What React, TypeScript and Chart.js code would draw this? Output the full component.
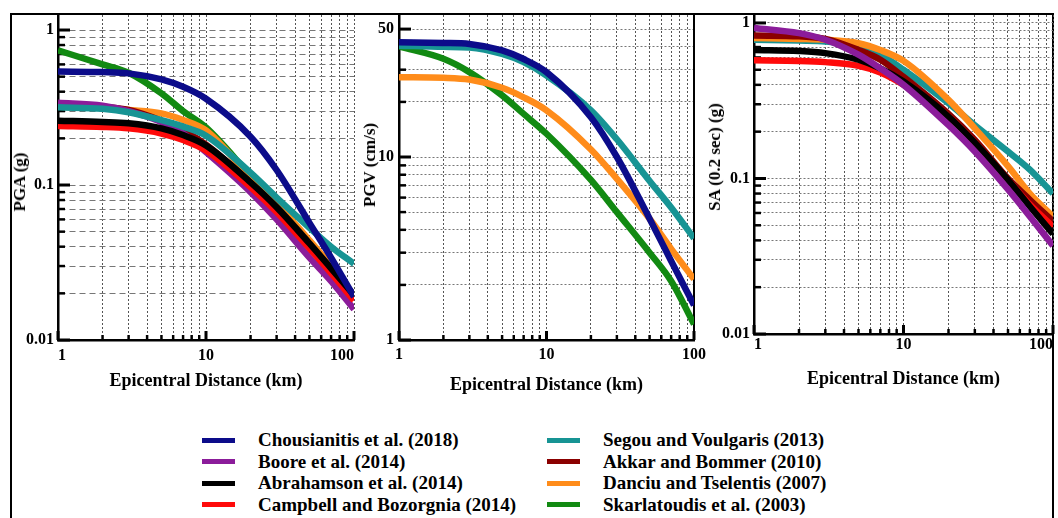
import React, { useEffect, useRef } from "react";
import { Chart, registerables } from "chart.js";

Chart.register(...registerables);

// ---------------- DATA ----------------
const DISTANCE_KM = [1, 2, 3, 5, 7, 10, 20, 30, 50, 70, 100];

const MODEL_NAMES = [
  "Chousianitis et al. (2018)",
  "Boore et al. (2014)",
  "Abrahamson et al. (2014)",
  "Campbell and Bozorgnia (2014)",
  "Segou and Voulgaris (2013)",
  "Akkar and Bommer (2010)",
  "Danciu and Tselentis (2007)",
  "Skarlatoudis et al. (2003)",
];
const MODEL_COLORS = ["#0c0c8a", "#8b1c9a", "#000000", "#ff0a0a", "#179494", "#8b0000", "#ff8c1a", "#128a12"];

// PGA (g)
const PGA_CHOUSIANITIS = [0.54, 0.535, 0.525, 0.48, 0.43, 0.36, 0.205, 0.125, 0.057, 0.034, 0.019];
const PGA_BOORE = [0.34, 0.325, 0.3, 0.255, 0.215, 0.163, 0.09, 0.06, 0.034, 0.024, 0.0158];
const PGA_ABRAHAMSON = [0.26, 0.255, 0.25, 0.232, 0.21, 0.18, 0.104, 0.072, 0.042, 0.029, 0.0195];
const PGA_CAMPBELL = [0.24, 0.237, 0.232, 0.215, 0.195, 0.167, 0.097, 0.067, 0.039, 0.027, 0.018];
const PGA_SEGOU = [0.317, 0.31, 0.295, 0.262, 0.238, 0.208, 0.12, 0.083, 0.053, 0.04, 0.031];
const PGA_AKKAR = [0.33, 0.32, 0.305, 0.26, 0.225, 0.182, 0.103, 0.07, 0.04, 0.028, 0.0185];
const PGA_DANCIU = [0.32, 0.315, 0.305, 0.29, 0.263, 0.225, 0.112, 0.076, 0.044, 0.03, 0.019];
const PGA_SKARLATOUDIS = [0.74, 0.6, 0.53, 0.39, 0.3, 0.235, 0.115, 0.076, 0.043, 0.03, 0.019];

// PGV (cm/s)
const PGV_CHOUSIANITIS = [42.4, 42, 41.5, 38.2, 34.3, 29.1, 16.5, 10, 4.6, 2.7, 1.55];
const PGV_SEGOU = [40.6, 40, 39.7, 36.6, 33, 27.9, 18, 12.5, 7.4, 5.3, 3.6];
const PGV_DANCIU = [27.3, 27.1, 26.5, 23.9, 21.2, 18, 11, 7.6, 4.6, 3.15, 2.15];
const PGV_SKARLATOUDIS = [40.2, 34.4, 29.1, 21.7, 17.2, 13.4, 7.5, 5.0, 3.0, 2.1, 1.22];

// SA (0.2 sec) (g)
const SA_BOORE = [0.93, 0.86, 0.78, 0.625, 0.51, 0.4, 0.22, 0.149, 0.085, 0.057, 0.037];
const SA_ABRAHAMSON = [0.67, 0.66, 0.64, 0.58, 0.51, 0.42, 0.25, 0.17, 0.098, 0.066, 0.044];
const SA_CAMPBELL = [0.575, 0.57, 0.56, 0.53, 0.48, 0.4, 0.25, 0.17, 0.098, 0.068, 0.049];
const SA_AKKAR = [0.83, 0.82, 0.79, 0.67, 0.58, 0.45, 0.26, 0.177, 0.1, 0.073, 0.053];
const SA_DANCIU = [0.8, 0.79, 0.78, 0.74, 0.67, 0.57, 0.32, 0.21, 0.12, 0.08, 0.057];
const SA_SEGOU = [0.78, 0.77, 0.76, 0.71, 0.625, 0.5, 0.305, 0.22, 0.149, 0.114, 0.08];

// Axis ticks / grid
const X_GRID = [1, 2, 3, 4, 5, 6, 7, 8, 9, 10, 20, 30, 40, 50, 60, 70, 80, 90, 100];
const X_TICK_LABELS = [1, 10, 100];
const G_GRID = [0.01, 0.02, 0.03, 0.04, 0.05, 0.06, 0.07, 0.08, 0.09, 0.1, 0.2, 0.3, 0.4, 0.5, 0.6, 0.7, 0.8, 0.9, 1];
const G_TICK_LABELS = [0.01, 0.1, 1];
const PGV_GRID = [1, 2, 3, 4, 5, 6, 7, 8, 9, 10, 20, 30, 40, 50];
const PGV_TICK_LABELS = [1, 10, 50];

const X_TITLE = "Epicentral Distance (km)";

// ---------------- STYLE / LAYOUT ----------------
const FONT = "'Liberation Serif', 'Times New Roman', serif";

type Series = { model: number; values: number[] };
type PanelSpec = {
  left: number;
  width: number;
  height: number;
  padTop: number;
  padRight: number;
  yAxisWidth: number;
  xAxisHeight: number;
  yMin: number;
  yMax: number;
  yGrid: number[];
  yLabels: number[];
  yTitle: string;
  yTitleX: number;
  yTitleY: number;
  yTickPad: number;
  xTickPad: number;
  xTitlePad: number;
  xAlign: "center" | "inner";
  yDash: number[];
  rightBorder: boolean;
  series: Series[];
};

const PANELS: PanelSpec[] = [
  {
    left: 0, width: 362, height: 400, padTop: 15, padRight: 8, yAxisWidth: 58, xAxisHeight: 60,
    yMin: 0.01, yMax: 1.25, yGrid: G_GRID, yLabels: G_TICK_LABELS,
    yTitle: "PGA (g)", yTitleX: 20, yTitleY: 182,
    yTickPad: 4, xTickPad: 6, xTitlePad: 8, xAlign: "inner", yDash: [6, 4], rightBorder: false,
    series: [
      { model: 0, values: PGA_CHOUSIANITIS },
      { model: 4, values: PGA_SEGOU },
      { model: 2, values: PGA_ABRAHAMSON },
      { model: 3, values: PGA_CAMPBELL },
      { model: 1, values: PGA_BOORE },
      { model: 5, values: PGA_AKKAR },
      { model: 6, values: PGA_DANCIU },
      { model: 7, values: PGA_SKARLATOUDIS },
    ],
  },
  {
    left: 355, width: 360, height: 400, padTop: 15, padRight: 21, yAxisWidth: 44, xAxisHeight: 60,
    yMin: 1, yMax: 59.7, yGrid: PGV_GRID, yLabels: PGV_TICK_LABELS,
    yTitle: "PGV (cm/s)", yTitleX: 370, yTitleY: 165,
    yTickPad: 5, xTickPad: 5, xTitlePad: 4, xAlign: "center", yDash: [2, 2], rightBorder: true,
    series: [
      { model: 0, values: PGV_CHOUSIANITIS },
      { model: 4, values: PGV_SEGOU },
      { model: 6, values: PGV_DANCIU },
      { model: 7, values: PGV_SKARLATOUDIS },
    ],
  },
  {
    left: 700, width: 358, height: 400, padTop: 15, padRight: 5, yAxisWidth: 54, xAxisHeight: 66,
    yMin: 0.01, yMax: 1.125, yGrid: G_GRID, yLabels: G_TICK_LABELS,
    yTitle: "SA (0.2 sec) (g)", yTitleX: 715, yTitleY: 157,
    yTickPad: 4, xTickPad: 1, xTitlePad: 10, xAlign: "inner", yDash: [2, 2], rightBorder: false,
    series: [
      { model: 1, values: SA_BOORE },
      { model: 2, values: SA_ABRAHAMSON },
      { model: 3, values: SA_CAMPBELL },
      { model: 5, values: SA_AKKAR },
      { model: 6, values: SA_DANCIU },
      { model: 4, values: SA_SEGOU },
    ],
  },
];

const innerTicks = {
  id: "innerTicks",
  beforeDatasetsDraw(chart: any, _args: any, opts: any) {
    const { ctx, chartArea: a, scales } = chart;
    const xs = scales.x;
    const ys = scales.y;
    ctx.save();
    ctx.strokeStyle = "#000";
    ctx.lineCap = "butt";
    ctx.setLineDash([]);
    for (const t of ys.ticks) {
      const p = ys.getPixelForValue(t.value);
      if (p < a.top - 0.5 || p > a.bottom + 0.5) continue;
      const major = opts.yLabels.includes(t.value);
      ctx.lineWidth = major ? 3 : 2.5;
      ctx.beginPath();
      ctx.moveTo(a.left, p);
      ctx.lineTo(a.left + (major ? 12 : 7), p);
      ctx.stroke();
    }
    for (const t of xs.ticks) {
      const p = xs.getPixelForValue(t.value);
      if (p < a.left - 0.5 || p > a.right + 0.5) continue;
      const major = X_TICK_LABELS.includes(t.value);
      ctx.lineWidth = major ? 3 : 2.5;
      ctx.beginPath();
      ctx.moveTo(p, a.bottom);
      ctx.lineTo(p, a.bottom - (major ? 9 : 5));
      ctx.stroke();
    }
    if (opts.rightBorder) {
      ctx.lineWidth = 2;
      ctx.beginPath();
      ctx.moveTo(a.right, a.top);
      ctx.lineTo(a.right, a.bottom);
      ctx.stroke();
    }
    ctx.restore();
  },
};

function buildConfig(p: PanelSpec): any {
  const datasets = p.series.map((s) => ({
    label: MODEL_NAMES[s.model],
    data: DISTANCE_KM.map((x, i) => ({ x, y: s.values[i] })),
    borderColor: MODEL_COLORS[s.model],
    backgroundColor: MODEL_COLORS[s.model],
    borderWidth: 6.5,
    pointRadius: 0,
    fill: false,
    cubicInterpolationMode: "monotone",
    clip: 0,
  }));
  const tickFont = { family: FONT, size: 16, weight: "bold" };
  return {
    type: "line",
    data: { datasets },
    plugins: [innerTicks],
    options: {
      responsive: false,
      animation: false,
      devicePixelRatio: 1,
      layout: { padding: { top: p.padTop, right: p.padRight, left: 0, bottom: 0 } },
      plugins: {
        legend: { display: false },
        tooltip: { enabled: false },
        innerTicks: { yLabels: p.yLabels, rightBorder: p.rightBorder },
      },
      scales: {
        x: {
          type: "logarithmic",
          position: "bottom",
          min: 1,
          max: 100,
          afterFit: (s: any) => {
            s.height = p.xAxisHeight;
          },
          afterBuildTicks: (s: any) => {
            s.ticks = X_GRID.map((v) => ({ value: v }));
          },
          ticks: {
            autoSkip: false,
            maxRotation: 0,
            minRotation: 0,
            padding: p.xTickPad,
            align: p.xAlign,
            color: "#000",
            font: tickFont,
            callback: (v: number) => (X_TICK_LABELS.includes(v) ? String(v) : ""),
          },
          grid: { color: "#555", lineWidth: 1, drawTicks: false },
          border: { display: true, color: "#000", width: 2.5, dash: [2, 2] },
          title: {
            display: true,
            text: X_TITLE,
            color: "#000",
            font: { family: FONT, size: 18, weight: "bold" },
            padding: { top: 0, bottom: p.xTitlePad },
          },
        },
        y: {
          type: "logarithmic",
          position: "left",
          min: p.yMin,
          max: p.yMax,
          afterFit: (s: any) => {
            s.width = p.yAxisWidth;
          },
          afterBuildTicks: (s: any) => {
            s.ticks = p.yGrid.map((v) => ({ value: v }));
          },
          ticks: {
            autoSkip: false,
            padding: p.yTickPad,
            color: "#000",
            font: tickFont,
            callback: (v: number) => (p.yLabels.includes(v) ? String(v) : ""),
          },
          grid: { color: "#777", lineWidth: 1, drawTicks: false },
          border: { display: true, color: "#000", width: 2.5, dash: p.yDash },
          title: { display: false },
        },
      },
    },
  };
}

function PanelChart({ spec }: { spec: PanelSpec }) {
  const ref = useRef<HTMLCanvasElement | null>(null);
  useEffect(() => {
    if (!ref.current) return;
    const chart = new Chart(ref.current, buildConfig(spec));
    return () => chart.destroy();
  }, [spec]);
  return (
    <canvas
      ref={ref}
      width={spec.width}
      height={spec.height}
      style={{ position: "absolute", left: spec.left, top: 0, width: spec.width, height: spec.height }}
    />
  );
}

const LEGEND_ROW_CENTERS = [440, 461.5, 483, 504.5];
const LEGEND_LINE_X = [202, 547];
const LEGEND_TEXT_X = [258, 603];

export default function App() {
  return (
    <div
      style={{
        position: "fixed",
        left: 0,
        top: 0,
        width: 1058,
        height: 518,
        overflow: "hidden",
        background: "#fff",
        fontFamily: FONT,
      }}
    >
      <div
        style={{
          position: "absolute",
          left: 10,
          top: 13,
          width: 1044,
          height: 560,
          border: "2px solid #000",
          boxSizing: "border-box",
        }}
      />
      {PANELS.map((p, i) => (
        <PanelChart key={i} spec={p} />
      ))}
      {PANELS.map((p, i) => (
        <div
          key={"yt" + i}
          style={{
            position: "absolute",
            left: p.yTitleX,
            top: p.yTitleY,
            transform: "translate(-50%, -50%) rotate(-90deg)",
            whiteSpace: "nowrap",
            fontFamily: FONT,
            fontWeight: "bold",
            fontSize: 17,
            lineHeight: "20px",
            color: "#000",
          }}
        >
          {p.yTitle}
        </div>
      ))}
      {MODEL_NAMES.map((name, i) => {
        const col = i < 4 ? 0 : 1;
        const row = i % 4;
        const cy = LEGEND_ROW_CENTERS[row];
        return (
          <React.Fragment key={name}>
            <div
              style={{
                position: "absolute",
                left: LEGEND_LINE_X[col],
                top: cy - 2.5,
                width: 33,
                height: 5,
                background: MODEL_COLORS[i],
              }}
            />
            <div
              style={{
                position: "absolute",
                left: LEGEND_TEXT_X[col],
                top: cy - 11,
                whiteSpace: "nowrap",
                fontFamily: FONT,
                fontWeight: "bold",
                fontSize: 19,
                lineHeight: "22px",
                color: "#000",
              }}
            >
              {name}
            </div>
          </React.Fragment>
        );
      })}
    </div>
  );
}
